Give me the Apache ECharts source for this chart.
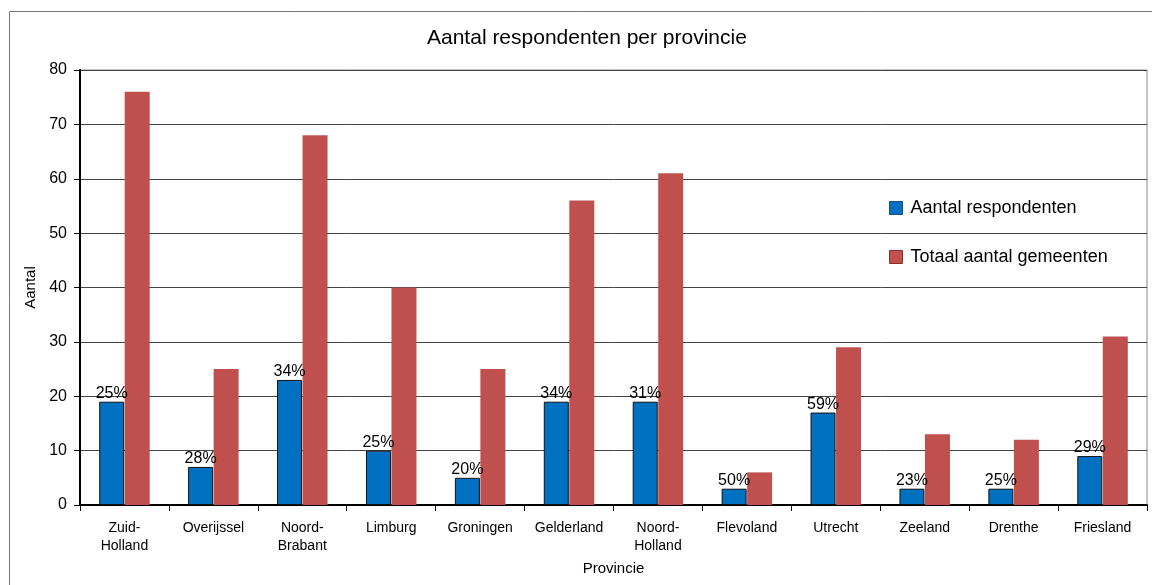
<!DOCTYPE html>
<html>
<head>
<meta charset="utf-8">
<script src="https://cdn.jsdelivr.net/npm/echarts@6/dist/echarts.min.js"></script>
<style>html,body{margin:0;padding:0;background:#fff}#c{width:1152px;height:585px}</style>
</head>
<body>
<div id="c"></div>
<script>
const categories = ['Zuid-\nHolland','Overijssel','Noord-\nBrabant','Limburg','Groningen','Gelderland','Noord-\nHolland','Flevoland','Utrecht','Zeeland','Drenthe','Friesland'];
const respondenten = [19,7,23,10,5,19,19,3,17,3,3,9];
const gemeenten = [76,25,68,40,25,56,61,6,29,13,12,31];
const percentages = ['25%','28%','34%','25%','20%','34%','31%','50%','59%','23%','25%','29%'];
const yTicks = [0,10,20,30,40,50,60,70,80];

const font = 'Liberation Sans, Arial, sans-serif';
const chart = echarts.init(document.getElementById('c'), null, {renderer:'canvas'});
chart.setOption({
  animation:false,
  backgroundColor:'#fff',
  title:{text:'Aantal respondenten per provincie',left:422,top:23,
    textStyle:{fontFamily:font,fontSize:21,fontWeight:'normal',color:'#000'}},
  graphic:[{type:'rect',left:7,top:9,shape:{width:1170,height:600},
    style:{fill:'none',stroke:'#777',lineWidth:1},silent:true,z:-1}],
  legend:{orient:'vertical',left:884,top:194,itemGap:31,itemWidth:13,itemHeight:13,
    icon:'rect',
    textStyle:{fontFamily:font,fontSize:18,color:'#000',padding:[0,0,0,3]},
    data:[{name:'Aantal respondenten',itemStyle:{color:'#0070C0',borderColor:'#1f4e79',borderWidth:1}},
          {name:'Totaal aantal gemeenten',itemStyle:{color:'#C0504D',borderColor:'#8b2e2b',borderWidth:1}}]},
  grid:{left:80,right:5,top:70,bottom:80,show:true,borderColor:'#888',borderWidth:1},
  xAxis:{type:'category',data:categories,
    name:'Provincie',nameLocation:'middle',nameGap:56,
    nameTextStyle:{fontFamily:font,fontSize:15,color:'#000'},
    axisLine:{lineStyle:{color:'#000',width:2}},
    axisTick:{show:true,alignWithLabel:false,length:6,lineStyle:{color:'#000'}},
    axisLabel:{fontFamily:font,fontSize:14,color:'#000',margin:14,lineHeight:18,interval:0}},
  yAxis:{type:'value',min:0,max:80,interval:10,
    name:'Aantal',nameLocation:'middle',nameGap:41,
    nameTextStyle:{fontFamily:font,fontSize:15,color:'#000'},
    axisLine:{show:true,lineStyle:{color:'#000',width:2}},
    axisTick:{show:true,length:6,lineStyle:{color:'#000'}},
    axisLabel:{fontFamily:font,fontSize:16,color:'#000',margin:13,
      formatter:v=>yTicks.includes(v)?String(v):''},
    splitLine:{show:true,lineStyle:{color:'#444',width:1}}},
  series:[
    {name:'Aantal respondenten',type:'bar',data:respondenten,barWidth:25,barGap:'2%',
      itemStyle:{color:'#0070C0',borderColor:'#111',borderWidth:1},
      label:{show:true,position:'top',distance:0,fontFamily:font,fontSize:16,color:'#000',
        formatter:p=>percentages[p.dataIndex]}},
    {name:'Totaal aantal gemeenten',type:'bar',data:gemeenten,barWidth:25,
      itemStyle:{color:'#C0504D'}}
  ]
});
</script>
</body>
</html>
